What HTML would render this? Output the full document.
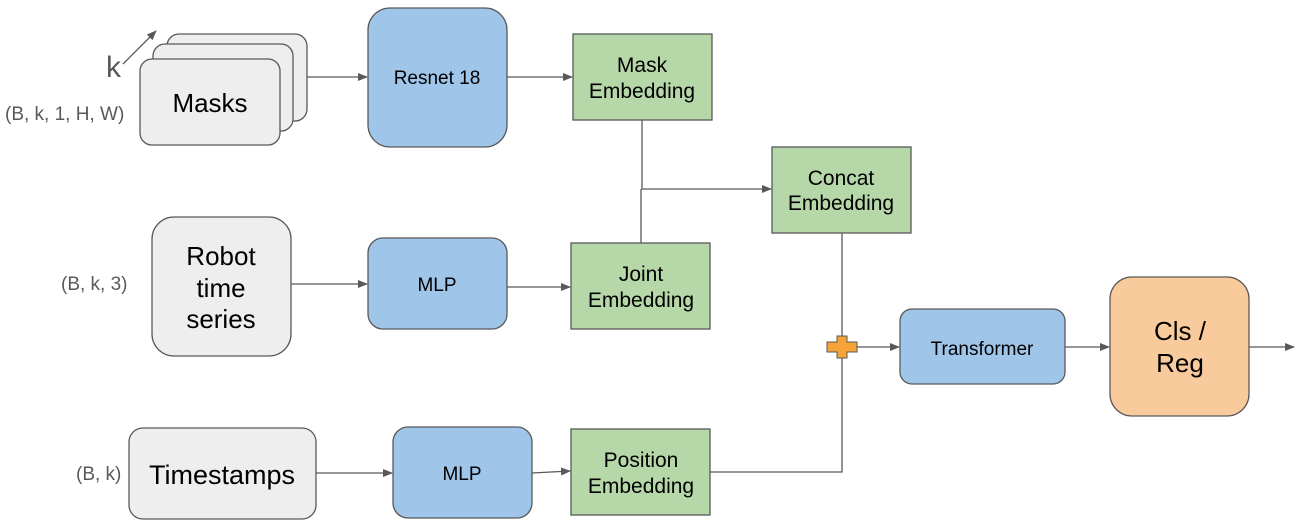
<!DOCTYPE html>
<html><head><style>body{margin:0;background:#fff}svg{display:block}text{font-family:"Liberation Sans",sans-serif}</style></head>
<body>
<svg width="1305" height="528" viewBox="0 0 1305 528" xmlns="http://www.w3.org/2000/svg">
<defs><marker id="a" markerWidth="10" markerHeight="8" refX="9" refY="4" orient="auto" markerUnits="userSpaceOnUse"><path d="M0,0L10,4L0,8z" fill="#595959"/></marker></defs>
<g stroke="#595959" stroke-width="1.3" fill="none">
<line x1="123" y1="64" x2="156" y2="31" marker-end="url(#a)"/>
<line x1="307" y1="77" x2="367" y2="77" marker-end="url(#a)"/>
<line x1="507" y1="77" x2="572" y2="77" marker-end="url(#a)"/>
<polyline points="642,120 642,189 771,189" marker-end="url(#a)"/>
<line x1="641" y1="243" x2="641" y2="189"/>
<line x1="291" y1="284" x2="367" y2="284" marker-end="url(#a)"/>
<line x1="507" y1="287" x2="570" y2="287" marker-end="url(#a)"/>
<line x1="316" y1="473" x2="392" y2="473" marker-end="url(#a)"/>
<line x1="532" y1="473" x2="570" y2="471" marker-end="url(#a)"/>
<polyline points="710,472 842,472 842,233"/>
<line x1="857" y1="347" x2="899" y2="347" marker-end="url(#a)"/>
<line x1="1065" y1="347" x2="1109" y2="347" marker-end="url(#a)"/>
<line x1="1249" y1="347" x2="1294" y2="347" marker-end="url(#a)"/>
</g>
<g stroke="#595959" stroke-width="1.3">
<rect x="167" y="34" width="140" height="87" rx="12" fill="#eeeeee"/>
<rect x="153" y="44" width="140" height="87" rx="12" fill="#eeeeee"/>
<rect x="140" y="59" width="140" height="86" rx="12" fill="#eeeeee"/>
<rect x="368" y="8" width="139" height="139" rx="22" fill="#9fc5e8"/>
<rect x="573" y="34" width="139" height="86" fill="#b6d7a8"/>
<rect x="772" y="147" width="139" height="86" fill="#b6d7a8"/>
<rect x="152" y="217" width="139" height="139" rx="22" fill="#eeeeee"/>
<rect x="368" y="238" width="139" height="91" rx="15" fill="#9fc5e8"/>
<rect x="571" y="243" width="139" height="86" fill="#b6d7a8"/>
<rect x="129" y="428" width="187" height="91" rx="14" fill="#eeeeee"/>
<rect x="393" y="427" width="139" height="91" rx="15" fill="#9fc5e8"/>
<rect x="571" y="429" width="139" height="86" fill="#b6d7a8"/>
<rect x="900" y="309" width="165" height="75" rx="12" fill="#9fc5e8"/>
<rect x="1110" y="277" width="139" height="139" rx="22" fill="#f9cb9c"/>
<path d="M837,336h10v6h10v10h-10v6h-10v-6h-10v-10h10z" fill="#f6a33a" stroke-width="1"/>
</g>
<g fill="#000" text-anchor="middle">
<text x="210" y="112" font-size="26">Masks</text>
<text x="437" y="84" font-size="19">Resnet 18</text>
<text x="642" y="72" font-size="21">Mask</text>
<text x="642" y="98" font-size="21">Embedding</text>
<text x="841" y="185" font-size="21">Concat</text>
<text x="841" y="210" font-size="21">Embedding</text>
<text x="221" y="265" font-size="26">Robot</text>
<text x="221" y="297" font-size="26">time</text>
<text x="221" y="328" font-size="26">series</text>
<text x="437" y="291" font-size="19">MLP</text>
<text x="641" y="281" font-size="21">Joint</text>
<text x="641" y="307" font-size="21">Embedding</text>
<text x="222" y="484" font-size="27">Timestamps</text>
<text x="462" y="480" font-size="19">MLP</text>
<text x="641" y="467" font-size="21">Position</text>
<text x="641" y="493" font-size="21">Embedding</text>
<text x="982" y="355" font-size="19">Transformer</text>
<text x="1180" y="340" font-size="26">Cls /</text>
<text x="1180" y="372" font-size="26">Reg</text>
</g>
<g fill="#595959">
<text x="106" y="77" font-size="30">k</text>
<text x="5" y="120" font-size="19">(B, k, 1, H, W)</text>
<text x="61" y="290" font-size="19">(B, k, 3)</text>
<text x="76" y="480" font-size="19">(B, k)</text>
</g>
</svg>
</body></html>
